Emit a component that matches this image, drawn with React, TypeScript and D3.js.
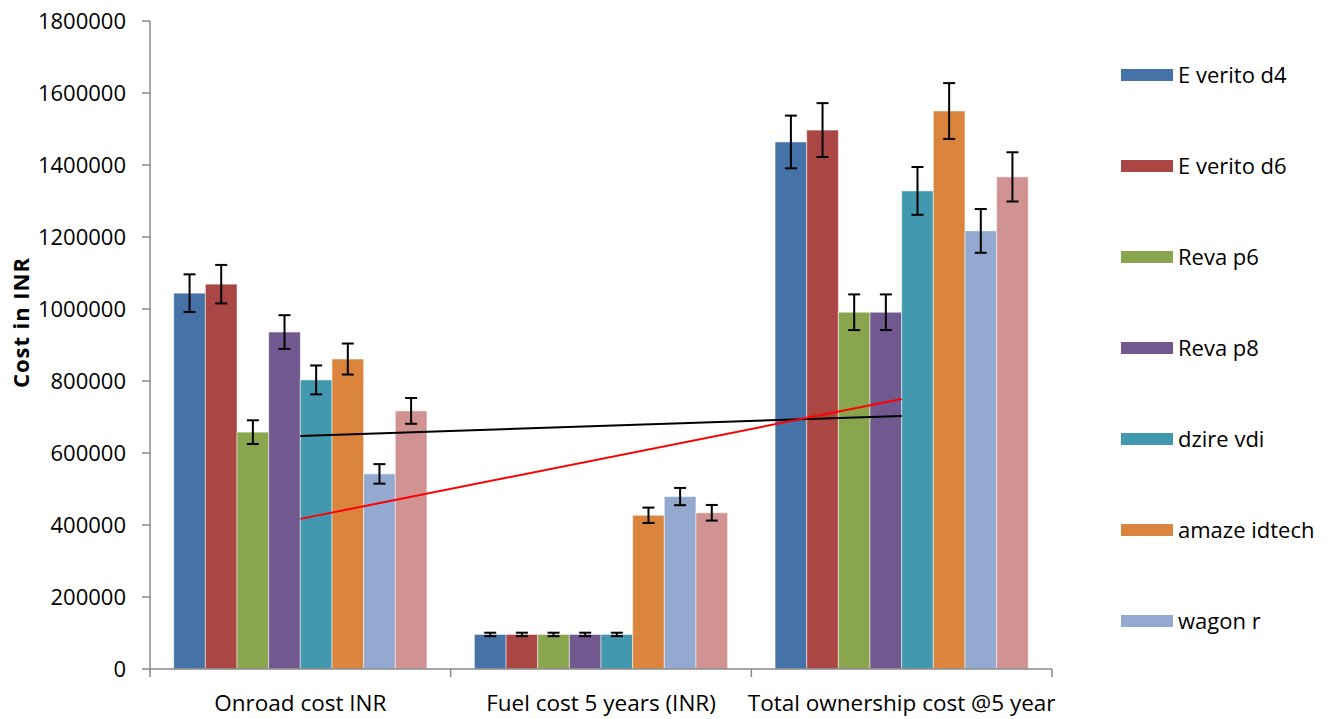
import React from 'react';
import * as d3 from 'd3';

const categories = ['Onroad cost INR', 'Fuel cost 5 years (INR)', 'Total ownership cost @5 year'];
const seriesNames = [
  'E verito d4',
  'E verito d6',
  'Reva p6',
  'Reva p8',
  'dzire vdi',
  'amaze idtech',
  'wagon r',
  'alto k10',
];
const seriesColors = ['#4572A7', '#AA4643', '#89A54E', '#71588F', '#4198AF', '#DB843D', '#93A9CF', '#D19392'];

// values per series: [onroad, fuel, total]
const onroadCost = [1044000, 1069000, 658000, 936000, 803000, 861000, 542000, 717000];
const fuelCost = [96000, 96000, 96000, 96000, 96000, 427000, 479000, 434000];
const totalCost = [1464000, 1497000, 991000, 991000, 1328000, 1550000, 1217000, 1367000];
const errorPercent = 0.05;

// trend lines, from first category to last
const blackTrend = [647000, 703000];
const redTrend = [417000, 750000];

const yTicks = [0, 200000, 400000, 600000, 800000, 1000000, 1200000, 1400000, 1600000, 1800000];
const legendCount = 7; // last entry is cut off in the original

const App = () => {
  const width = 1329;
  const height = 719;
  const left = 150;
  const right = 1052;
  const top = 21;
  const bottom = 669;
  const font = '"Open Sans", "DejaVu Sans", sans-serif';

  const x = d3.scaleBand().domain(categories).range([left, right]).paddingInner(0).paddingOuter(0);
  const inner = d3
    .scaleBand()
    .domain(seriesNames)
    .range([0, x.bandwidth()])
    .paddingOuter(0.75)
    .paddingInner(0);
  const y = d3.scaleLinear().domain([0, 1800000]).range([bottom, top]);

  const valuesByCat = [onroadCost, fuelCost, totalCost];
  const catCenter = (i: number) => (x(categories[i]) || 0) + x.bandwidth() / 2;

  const bars = categories.map((cat, ci) =>
    seriesNames.map((name, si) => {
      const v = valuesByCat[ci][si];
      const bx = (x(cat) || 0) + (inner(name) || 0);
      const bw = inner.bandwidth();
      const e = v * errorPercent;
      const cx = bx + bw / 2;
      return (
        <g key={`${ci}-${si}`}>
          <rect
            x={bx}
            y={y(v)}
            width={bw}
            height={y(0) - y(v)}
            fill={seriesColors[si]}
            stroke="#ffffff"
            strokeOpacity={0.5}
            strokeWidth={1}
          />
          <g stroke="#000" strokeWidth={2}>
            <line x1={cx} x2={cx} y1={y(v + e)} y2={y(v - e)} />
            <line x1={cx - 6} x2={cx + 6} y1={y(v + e)} y2={y(v + e)} />
            <line x1={cx - 6} x2={cx + 6} y1={y(v - e)} y2={y(v - e)} />
          </g>
        </g>
      );
    })
  );

  const trendLine = d3
    .line<number>()
    .x((_, i) => catCenter(i * 2))
    .y((d) => y(d));

  return (
    <svg width={width} height={height} style={{ position: 'absolute', left: 0, top: 0, background: '#fff' }}>
      {/* y axis */}
      <line x1={left} x2={left} y1={top} y2={bottom} stroke="#888" strokeWidth={1.5} />
      {yTicks.map((t) => (
        <g key={t}>
          <line x1={left - 8} x2={left} y1={y(t)} y2={y(t)} stroke="#888" strokeWidth={1.5} />
          <text
            x={left - 24}
            y={y(t)}
            dy="0.36em"
            textAnchor="end"
            fontFamily={font}
            fontSize={22}
            fill="#000"
          >
            {t}
          </text>
        </g>
      ))}
      <text
        transform={`translate(29, 323) rotate(-90)`}
        textAnchor="middle"
        fontFamily={font}
        fontSize={22}
        fontWeight="bold"
        textLength={130}
        lengthAdjust="spacing"
      >
        Cost in INR
      </text>

      {bars}

      {/* x axis */}
      <line x1={left} x2={right} y1={bottom} y2={bottom} stroke="#888" strokeWidth={1.5} />
      {[...categories.map((c) => x(c) || 0), right].map((tx, i) => (
        <line key={i} x1={tx} x2={tx} y1={bottom} y2={bottom + 8} stroke="#888" strokeWidth={1.5} />
      ))}
      {categories.map((c, i) => (
        <text key={c} x={catCenter(i)} y={711} textAnchor="middle" fontFamily={font} fontSize={22.5}>
          {c}
        </text>
      ))}

      <path d={trendLine(blackTrend) || undefined} stroke="#000" strokeWidth={2} fill="none" />
      <path d={trendLine(redTrend) || undefined} stroke="#ff0000" strokeWidth={2} fill="none" />

      {/* legend */}
      {seriesNames.slice(0, legendCount).map((name, i) => {
        const ly = 75 + i * 91;
        return (
          <g key={name}>
            <rect x={1121} y={ly - 6} width={52} height={12} fill={seriesColors[i]} />
            <text x={1178} y={ly} dy="0.36em" fontFamily={font} fontSize={22}>
              {name}
            </text>
          </g>
        );
      })}
    </svg>
  );
};

export default App;
